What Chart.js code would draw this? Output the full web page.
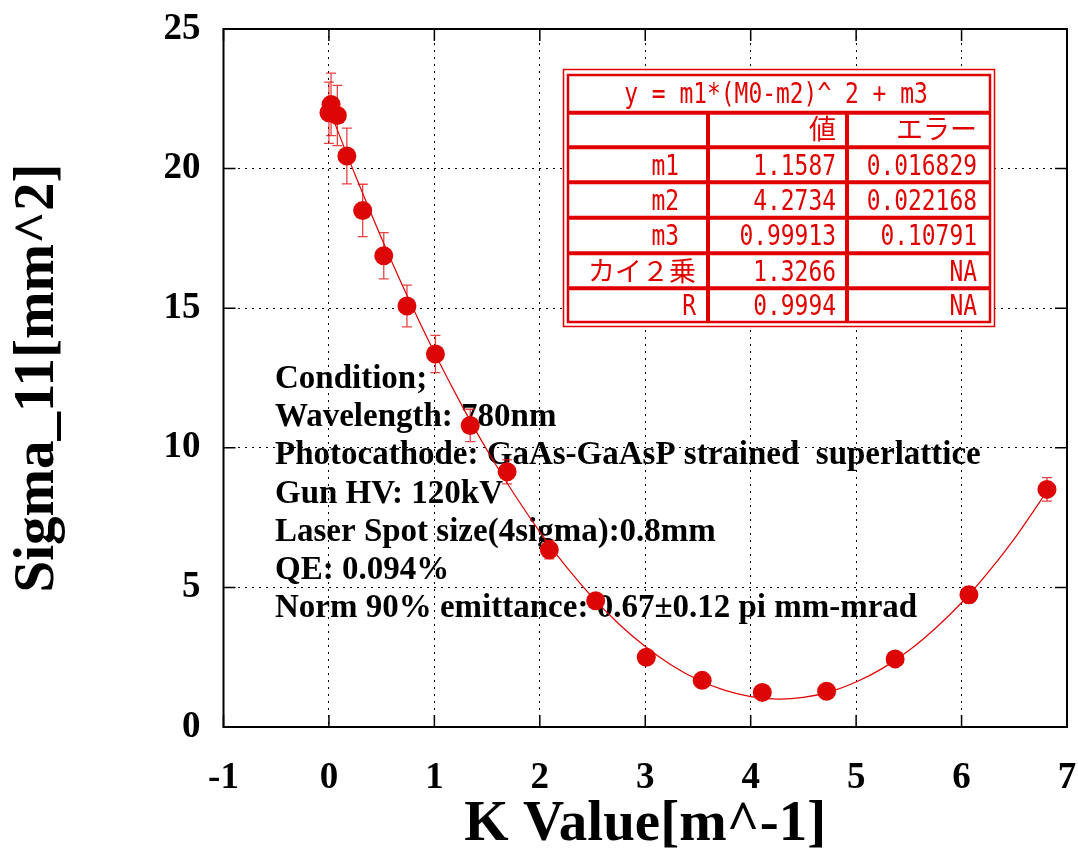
<!DOCTYPE html>
<html><head><meta charset="utf-8">
<script src="https://cdn.jsdelivr.net/npm/chart.js@4.4.1/dist/chart.umd.min.js"></script>
<style>html,body{margin:0;padding:0;background:#fff;overflow:hidden}canvas{display:block}</style>
</head><body>
<canvas id="c" width="1078" height="848"></canvas>
<script>
// ---- data ----
const kValues     = [0.00, 0.02, 0.08, 0.17, 0.32, 0.52, 0.74, 1.01, 1.34, 1.69, 2.09, 2.53, 3.01, 3.54, 4.11, 4.72, 5.37, 6.07, 6.81];
const sigmaValues = [22.0, 22.3, 21.9, 20.45, 18.5, 16.88, 15.08, 13.36, 10.8, 9.14, 6.35, 4.52, 2.5, 1.67, 1.24, 1.28, 2.44, 4.74, 8.51];
const sigmaErrors = [1.1, 1.12, 1.08, 1.0, 0.94, 0.83, 0.75, 0.67, 0.58, 0.43, 0.33, 0.25, 0.18, 0.15, 0.12, 0.12, 0.18, 0.28, 0.42];

const fitK     = [0, 0.25, 0.5, 0.75, 1.0, 1.25, 1.5, 1.75, 2.0, 2.25, 2.5, 2.75, 3.0, 3.25, 3.5, 3.75, 4.0, 4.25, 4.5, 4.75, 5.0, 5.25, 5.5, 5.75, 6.0, 6.25, 6.5, 6.75, 6.8];
const fitSigma = [22.16, 19.76, 17.5, 15.38, 13.41, 11.59, 9.91, 8.38, 6.99, 5.74, 4.64, 3.69, 2.88, 2.21, 1.69, 1.32, 1.09, 1.0, 1.06, 1.26, 1.61, 2.1, 2.74, 3.53, 4.45, 5.53, 6.74, 8.11, 8.4];

const xTickValues = [-1, 0, 1, 2, 3, 4, 5, 6, 7];
const yTickValues = [0, 5, 10, 15, 20, 25];

const xTitle = "K Value[m^-1]";
const yTitle = "Sigma_11[mm^2]";

const conditionLines = [
  "Condition;",
  "Wavelength: 780nm",
  "Photocathode: GaAs-GaAsP strained  superlattice",
  "Gun HV: 120kV",
  "Laser Spot size(4sigma):0.8mm",
  "QE: 0.094%",
  "Norm 90% emittance: 0.67\u00b10.12 pi mm-mrad"
];

const fitFormula   = "y = m1*(M0-m2)^ 2 + m3";
const tableHeads   = ["", "値", "エラー"];
const tableNames   = ["m1", "m2", "m3", "カイ２乗", "R"];
const tableValues  = ["1.1587", "4.2734", "0.99913", "1.3266", "0.9994"];
const tableErrors  = ["0.016829", "0.022168", "0.10791", "NA", "NA"];

// ---- styles ----
const RED = '#e00000';
const SERIF = '"Liberation Serif", "Times New Roman", serif';

function cellText(ctx, str, x, y, align) {
  const cjk = /[^\x00-\x7f]/.test(str);
  ctx.save();
  ctx.fillStyle = RED;
  ctx.textBaseline = 'alphabetic';
  ctx.textAlign = align;
  if (cjk) {
    ctx.font = '27px "Noto Sans CJK JP"';
    ctx.fillText(str, x, y);
  } else {
    ctx.font = '29px "DejaVu Sans Mono"';
    ctx.translate(x, y);
    ctx.scale(0.79, 1);
    ctx.fillText(str, 0, 0);
  }
  ctx.restore();
}

function noEdgePadding(s) {
  s.paddingTop = 0; s.paddingBottom = 0; s.paddingLeft = 0; s.paddingRight = 0;
}

const decor = {
  id: 'decor',
  beforeDatasetsDraw(chart) {
    const ctx = chart.ctx;
    const xs = chart.scales.x, ys = chart.scales.y;
    // condition text
    ctx.save();
    ctx.fillStyle = '#000';
    ctx.font = 'bold 33px ' + SERIF;
    ctx.textAlign = 'left';
    ctx.textBaseline = 'alphabetic';
    conditionLines.forEach((t, i) => ctx.fillText(t, 275, 388 + i * 38.2));
    ctx.restore();
    // error bars
    ctx.save();
    ctx.strokeStyle = 'rgba(225,20,20,0.8)';
    ctx.lineWidth = 1.3;
    kValues.forEach((k, i) => {
      const px = xs.getPixelForValue(k);
      const top = ys.getPixelForValue(sigmaValues[i] + sigmaErrors[i]);
      const bot = ys.getPixelForValue(sigmaValues[i] - sigmaErrors[i]);
      ctx.beginPath();
      ctx.moveTo(px, top); ctx.lineTo(px, bot);
      ctx.moveTo(px - 5, top); ctx.lineTo(px + 5, top);
      ctx.moveTo(px - 5, bot); ctx.lineTo(px + 5, bot);
      ctx.stroke();
    });
    ctx.restore();
  },
  afterDatasetsDraw(chart) {
    const ctx = chart.ctx;
    const xs = chart.scales.x, ys = chart.scales.y;
    const a = chart.chartArea;
    // inward ticks
    ctx.save();
    ctx.strokeStyle = '#000';
    ctx.lineWidth = 1.5;
    ctx.beginPath();
    xTickValues.forEach(v => {
      const p = xs.getPixelForValue(v);
      ctx.moveTo(p, a.bottom); ctx.lineTo(p, a.bottom - 12);
      ctx.moveTo(p, a.top); ctx.lineTo(p, a.top + 12);
    });
    yTickValues.forEach(v => {
      const p = ys.getPixelForValue(v);
      ctx.moveTo(a.left, p); ctx.lineTo(a.left + 12, p);
      ctx.moveTo(a.right, p); ctx.lineTo(a.right - 12, p);
    });
    ctx.stroke();
    ctx.lineWidth = 2;
    ctx.strokeRect(a.left, a.top, a.right - a.left, a.bottom - a.top);
    ctx.restore();

    // fit table
    ctx.save();
    ctx.fillStyle = '#fff';
    ctx.fillRect(563, 69, 432, 258);
    ctx.strokeStyle = RED;
    ctx.lineWidth = 1.5;
    ctx.strokeRect(563.5, 69.5, 431, 257);
    ctx.lineWidth = 2.5;
    ctx.strokeRect(568, 75, 422, 247);
    const x0 = 568, x1 = 990, y1 = 322, c1 = 708, c2 = 847;
    const rows = [112.7, 147.3, 182.3, 217.7, 253.3, 288.3];
    ctx.lineWidth = 4;
    ctx.beginPath();
    rows.forEach(r => { ctx.moveTo(x0, r); ctx.lineTo(x1, r); });
    ctx.moveTo(c1, rows[0]); ctx.lineTo(c1, y1);
    ctx.moveTo(c2, rows[0]); ctx.lineTo(c2, y1);
    ctx.stroke();
    ctx.restore();

    cellText(ctx, fitFormula, 776, 103, 'center');
    cellText(ctx, tableHeads[1], 836, 139, 'right');
    cellText(ctx, tableHeads[2], 977, 139, 'right');
    const base = [175, 210, 245, 281, 315];
    tableNames.forEach((n, i) => {
      cellText(ctx, n, /^m\d/.test(n) ? 679 : 696, base[i], 'right');
      cellText(ctx, tableValues[i], 836, base[i], 'right');
      cellText(ctx, tableErrors[i], 977, base[i], 'right');
    });
  }
};

new Chart(document.getElementById('c'), {
  type: 'scatter',
  data: {
    datasets: [
      {
        label: 'fit',
        data: fitK.map((x, i) => ({ x, y: fitSigma[i] })),
        showLine: true,
        borderColor: RED,
        borderWidth: 1.2,
        pointRadius: 0,
        tension: 0.3,
        order: 1
      },
      {
        label: 'Sigma_11',
        data: kValues.map((x, i) => ({ x, y: sigmaValues[i] })),
        showLine: false,
        pointRadius: 9.5,
        pointBackgroundColor: '#dd0606',
        pointBorderWidth: 0,
        backgroundColor: '#dd0606',
        order: 0
      }
    ]
  },
  options: {
    responsive: false,
    devicePixelRatio: 1,
    animation: false,
    layout: { padding: { top: 29, right: 11, left: 0, bottom: 0 } },
    plugins: { legend: { display: false }, tooltip: { enabled: false } },
    scales: {
      x: {
        type: 'linear', min: -1, max: 7,
        afterBuildTicks: s => { s.ticks = xTickValues.map(v => ({ value: v })); },
        afterFit: s => { s.height = 121; noEdgePadding(s); },
        ticks: { color: '#000', font: { family: SERIF, size: 37, weight: 'bold' }, padding: 29 },
        grid: { color: '#000', lineWidth: 1, drawTicks: false },
        border: { display: false, dash: [2, 5] },
        title: { display: true, text: xTitle, color: '#000', font: { family: SERIF, size: 57, weight: 'bold', lineHeight: 0.8 }, padding: { top: 0, bottom: 0 } }
      },
      y: {
        type: 'linear', min: 0, max: 25,
        afterBuildTicks: s => { s.ticks = yTickValues.map(v => ({ value: v })); },
        afterFit: s => { s.width = 223.5; noEdgePadding(s); },
        ticks: { color: '#000', font: { family: SERIF, size: 37, weight: 'bold' }, padding: 23 },
        grid: { color: '#000', lineWidth: 1, drawTicks: false },
        border: { display: false, dash: [2, 5] },
        title: { display: true, text: yTitle, color: '#000', font: { family: SERIF, size: 57, weight: 'bold', lineHeight: 0.8 }, padding: { top: 15, bottom: 0 } }
      }
    }
  },
  plugins: [decor]
});
</script>
</body></html>
